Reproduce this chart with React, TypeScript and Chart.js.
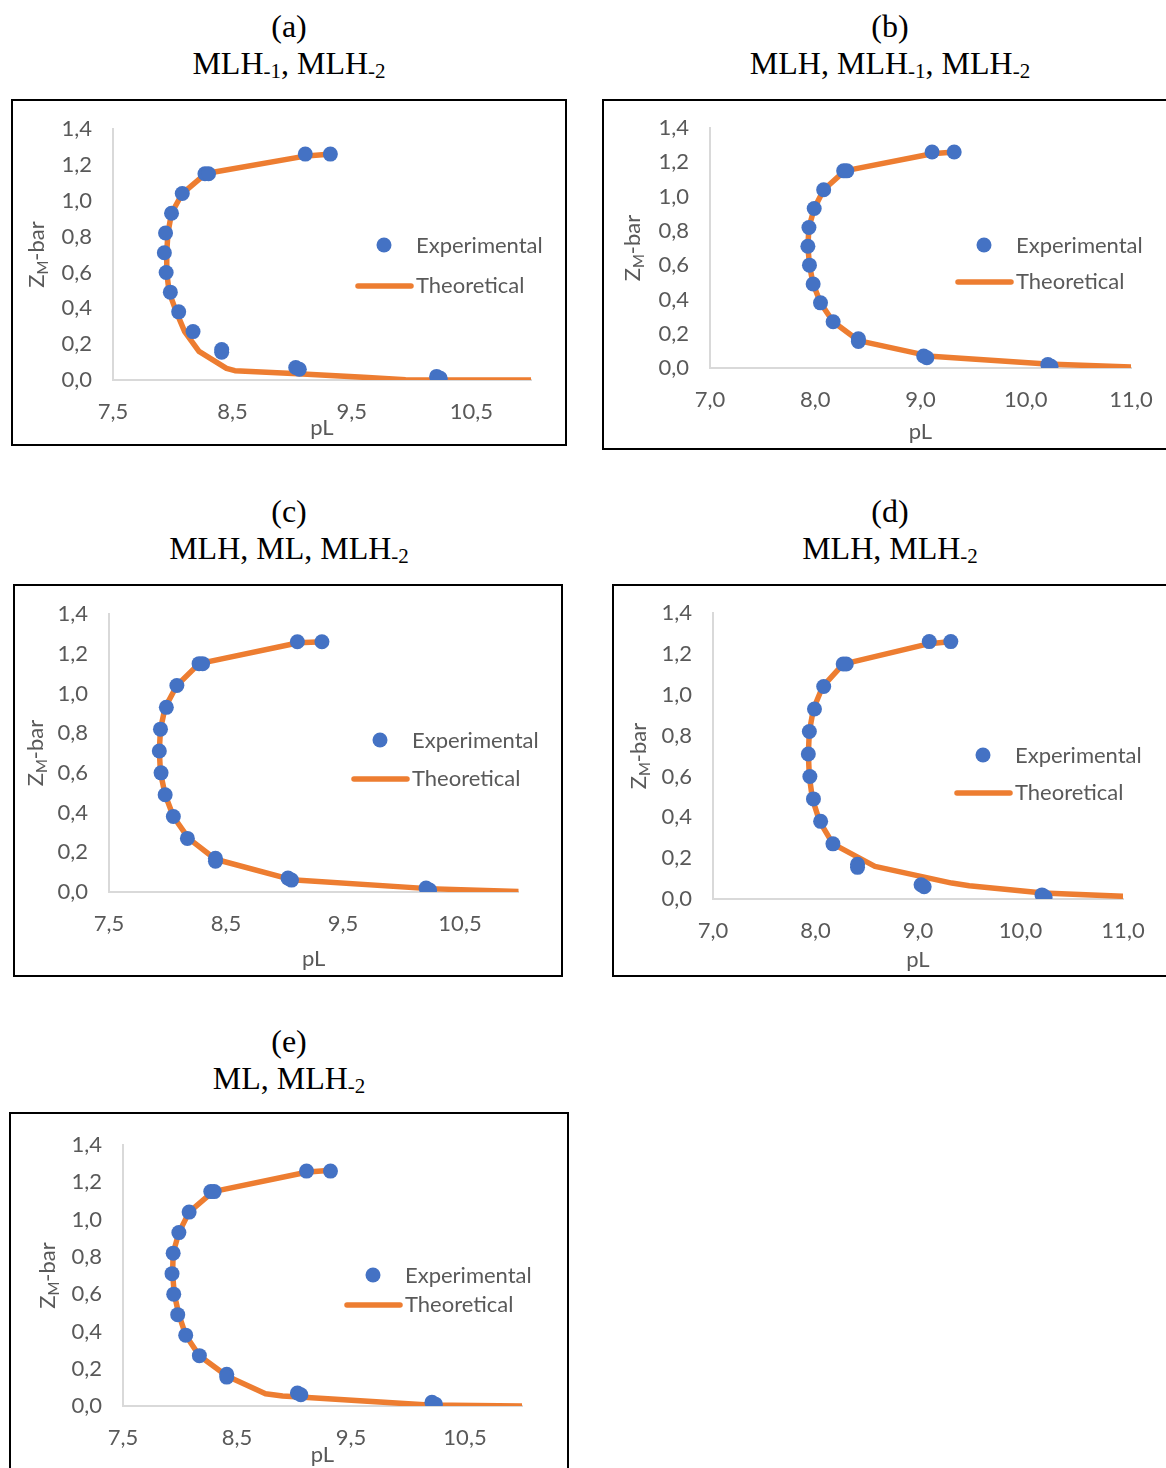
import React, { useEffect, useRef } from "react";
import { Chart, registerables } from "chart.js";

Chart.register(...registerables);

// ---------- data ----------
const yTicks = [0, 0.2, 0.4, 0.6, 0.8, 1.0, 1.2, 1.4];
const xTicksHalf = [7.5, 8.5, 9.5, 10.5];
const xTicksWhole = [7, 8, 9, 10, 11];

const expPL = [9.11, 9.32, 8.27, 8.3, 8.08, 7.99, 7.94, 7.93, 7.945, 7.98, 8.05, 8.17, 8.41, 8.41, 9.03, 9.06, 10.21, 10.24];
const expZ = [1.26, 1.26, 1.15, 1.15, 1.04, 0.93, 0.82, 0.71, 0.6, 0.49, 0.38, 0.27, 0.17, 0.155, 0.07, 0.06, 0.02, 0.01];

const thA_PL = [9.33, 9.12, 8.35, 8.24, 8.08, 7.99, 7.96, 7.95, 7.95, 7.97, 8.03, 8.1, 8.22, 8.45, 8.52, 9.05, 9.6, 9.95, 11.0];
const thA_Z = [1.26, 1.25, 1.16, 1.13, 1.04, 0.93, 0.82, 0.71, 0.6, 0.49, 0.38, 0.27, 0.16, 0.065, 0.052, 0.035, 0.015, 0.002, 0.0];

const thB_PL = [9.32, 9.11, 8.28, 8.08, 7.99, 7.94, 7.93, 7.945, 7.98, 8.05, 8.17, 8.41, 9.1, 10.2, 11.0];
const thB_Z = [1.26, 1.25, 1.15, 1.04, 0.93, 0.82, 0.71, 0.6, 0.49, 0.38, 0.27, 0.16, 0.068, 0.023, 0.006];

const thC_PL = [9.33, 9.12, 8.27, 8.08, 7.98, 7.94, 7.93, 7.94, 7.98, 8.05, 8.18, 8.41, 9.06, 10.23, 11.0];
const thC_Z = [1.26, 1.255, 1.15, 1.04, 0.93, 0.82, 0.71, 0.6, 0.49, 0.38, 0.27, 0.165, 0.062, 0.017, 0.003];

const thD_PL = [9.33, 9.11, 8.27, 8.07, 7.98, 7.94, 7.93, 7.94, 7.97, 8.04, 8.17, 8.58, 9.33, 9.5, 10.22, 11.0];
const thD_Z = [1.26, 1.25, 1.15, 1.04, 0.93, 0.82, 0.71, 0.6, 0.49, 0.38, 0.27, 0.16, 0.078, 0.065, 0.029, 0.013];

const thE_PL = [9.33, 9.12, 8.29, 8.08, 7.99, 7.94, 7.935, 7.95, 7.99, 8.05, 8.17, 8.415, 8.75, 8.9, 9.05, 10.18, 11.0];
const thE_Z = [1.265, 1.255, 1.15, 1.04, 0.93, 0.82, 0.71, 0.6, 0.49, 0.38, 0.27, 0.16, 0.066, 0.054, 0.048, 0.005, 0.0];

const legendLabels = ["Experimental", "Theoretical"];
const xAxisTitle = "pL";

// ---------- styles / layout ----------
const BLUE = "#4472C4";
const ORANGE = "#ED7D31";
const TEXT = "#595959";
const AXIS = "#D9D9D9";
const FONT = "Lato";
const FS = 22;

type Part = [string, boolean];

const panels = [
  {
    letter: "(a)", parts: [["MLH", false], ["-1", true], [", MLH", false], ["-2", true]] as Part[],
    titleCx: 289, titleY: 27,
    box: { left: 11, top: 99, width: 556, height: 347 },
    area: { left: 100, right: 518, top: 28, bottom: 279 },
    xMin: 7.5, xMax: 11, xTicks: xTicksHalf, thPL: thA_PL, thZ: thA_Z,
    legendX: 371, legendY: [144, 185], xTitleOff: 48, yTitleOff: 77,
  },
  {
    letter: "(b)", parts: [["MLH, MLH", false], ["-1", true], [", MLH", false], ["-2", true]] as Part[],
    titleCx: 890, titleY: 27,
    box: { left: 602, top: 99, width: 568, height: 351 },
    area: { left: 106, right: 527, top: 27, bottom: 267 },
    xMin: 7, xMax: 11, xTicks: xTicksWhole, thPL: thB_PL, thZ: thB_Z,
    legendX: 380, legendY: [144, 181], xTitleOff: 64, yTitleOff: 78,
  },
  {
    letter: "(c)", parts: [["MLH, ML, MLH", false], ["-2", true]] as Part[],
    titleCx: 289, titleY: 512,
    box: { left: 13, top: 584, width: 550, height: 393 },
    area: { left: 94, right: 503.5, top: 28, bottom: 306 },
    xMin: 7.5, xMax: 11, xTicks: xTicksHalf, thPL: thC_PL, thZ: thC_Z,
    legendX: 365, legendY: [154, 193], xTitleOff: 67, yTitleOff: 74,
  },
  {
    letter: "(d)", parts: [["MLH, MLH", false], ["-2", true]] as Part[],
    titleCx: 890, titleY: 512,
    box: { left: 612, top: 584, width: 558, height: 393 },
    area: { left: 99, right: 509, top: 27, bottom: 313 },
    xMin: 7, xMax: 11, xTicks: xTicksWhole, thPL: thD_PL, thZ: thD_Z,
    legendX: 369, legendY: [169, 207], xTitleOff: 61, yTitleOff: 75,
  },
  {
    letter: "(e)", parts: [["ML, MLH", false], ["-2", true]] as Part[],
    titleCx: 289, titleY: 1042,
    box: { left: 9, top: 1112, width: 560, height: 380 },
    area: { left: 112, right: 511, top: 31, bottom: 292 },
    xMin: 7.5, xMax: 11, xTicks: xTicksHalf, thPL: thE_PL, thZ: thE_Z,
    legendX: 362, legendY: [161, 191], xTitleOff: 49, yTitleOff: 76,
  },
];

const fmt = (v: any) => Number(v).toFixed(1).replace(".", ",");

const overlayPlugin = {
  id: "overlay",
  afterDraw(chart: any, _args: any, o: any) {
    const { ctx, chartArea } = chart;
    ctx.save();
    // x axis title
    ctx.fillStyle = TEXT;
    ctx.font = `${FS}px ${FONT}`;
    ctx.textAlign = "center";
    ctx.textBaseline = "middle";
    ctx.fillText(xAxisTitle, (chartArea.left + chartArea.right) / 2, chartArea.bottom + o.xTitleOff);

    // y axis title: Z_M-bar (rotated)
    const big = `${FS}px ${FONT}`;
    const small = `15px ${FONT}`;
    ctx.font = big;
    const wZ = ctx.measureText("Z").width;
    const wBar = ctx.measureText("-bar").width;
    ctx.font = small;
    const wM = ctx.measureText("M").width;
    const total = wZ + wM + wBar;
    ctx.translate(chartArea.left - o.yTitleOff, (chartArea.top + chartArea.bottom) / 2);
    ctx.rotate(-Math.PI / 2);
    ctx.textAlign = "left";
    ctx.textBaseline = "alphabetic";
    let x = -total / 2;
    const base = 8;
    ctx.font = big;
    ctx.fillText("Z", x, base);
    x += wZ;
    ctx.font = small;
    ctx.fillText("M", x, base + 4);
    x += wM;
    ctx.font = big;
    ctx.fillText("-bar", x, base);
    ctx.restore();

    // legend
    ctx.save();
    const lx = o.legendX;
    const [y1, y2] = o.legendY;
    ctx.fillStyle = BLUE;
    ctx.beginPath();
    ctx.arc(lx, y1, 7.5, 0, Math.PI * 2);
    ctx.fill();
    ctx.strokeStyle = ORANGE;
    ctx.lineWidth = 5.5;
    ctx.lineCap = "round";
    ctx.beginPath();
    ctx.moveTo(lx - 26, y2);
    ctx.lineTo(lx + 27, y2);
    ctx.stroke();
    ctx.fillStyle = TEXT;
    ctx.font = `${FS}px ${FONT}`;
    ctx.textAlign = "left";
    ctx.textBaseline = "middle";
    ctx.fillText(legendLabels[0], lx + 32, y1 + 1);
    ctx.fillText(legendLabels[1], lx + 32, y2);
    ctx.restore();
  },
};

function Panel({ p }: { p: (typeof panels)[number] }) {
  const ref = useRef<HTMLCanvasElement>(null);
  const W = p.box.width - 4;
  const H = p.box.height - 4;
  useEffect(() => {
    if (!ref.current) return;
    const chart = new Chart(ref.current, {
      type: "scatter",
      data: {
        datasets: [
          {
            label: legendLabels[0],
            data: expPL.map((x, i) => ({ x, y: expZ[i] })),
            showLine: false,
            pointRadius: 7.5,
            pointHoverRadius: 7.5,
            pointBackgroundColor: BLUE,
            pointBorderColor: BLUE,
            pointBorderWidth: 0,
            order: 0,
          },
          {
            label: legendLabels[1],
            data: p.thPL.map((x, i) => ({ x, y: p.thZ[i] })),
            showLine: true,
            borderColor: ORANGE,
            backgroundColor: ORANGE,
            borderWidth: 5.5,
            pointRadius: 0,
            tension: 0,
            borderJoinStyle: "round",
            borderCapStyle: "round",
            order: 1,
          },
        ],
      },
      options: {
        animation: false,
        responsive: false,
        maintainAspectRatio: false,
        events: [],
        layout: { padding: { top: p.area.top, right: W - p.area.right, bottom: 0, left: 0 } },
        plugins: {
          legend: { display: false },
          tooltip: { enabled: false },
          overlay: {
            legendX: p.legendX,
            legendY: p.legendY,
            xTitleOff: p.xTitleOff,
            yTitleOff: p.yTitleOff,
          },
        } as any,
        scales: {
          x: {
            type: "linear",
            min: p.xMin,
            max: p.xMax,
            afterBuildTicks: (s: any) => {
              s.ticks = p.xTicks.map((v) => ({ value: v }));
            },
            afterFit: (s: any) => {
              s.height = H - p.area.bottom;
              s.paddingLeft = 0;
              s.paddingRight = 0;
            },
            grid: { display: false, drawTicks: false },
            border: { display: true, color: AXIS, width: 2 },
            ticks: {
              autoSkip: false,
              maxRotation: 0,
              padding: 19,
              color: TEXT,
              font: { family: FONT, size: FS },
              callback: fmt,
            },
          },
          y: {
            type: "linear",
            min: 0,
            max: 1.4,
            afterBuildTicks: (s: any) => {
              s.ticks = yTicks.map((v) => ({ value: v }));
            },
            afterFit: (s: any) => {
              s.width = p.area.left;
              s.paddingTop = 0;
              s.paddingBottom = 0;
            },
            grid: { display: false, drawTicks: false },
            border: { display: true, color: AXIS, width: 2 },
            ticks: {
              autoSkip: false,
              padding: 21,
              color: TEXT,
              font: { family: FONT, size: FS },
              callback: fmt,
            },
          },
        },
      },
      plugins: [overlayPlugin],
    } as any);
    return () => chart.destroy();
  }, []);

  return (
    <>
      <div
        style={{
          position: "absolute",
          left: p.titleCx - 300,
          top: p.titleY - 19,
          width: 600,
          textAlign: "center",
          fontFamily: '"Liberation Serif", "Times New Roman", serif',
          fontSize: 32,
          lineHeight: "37px",
          color: "#000",
        }}
      >
        <div>{p.letter}</div>
        <div>
          {p.parts.map(([t, sub], i) =>
            sub ? (
              <span key={i} style={{ fontSize: 21, position: "relative", top: 4 }}>
                {t}
              </span>
            ) : (
              <span key={i}>{t}</span>
            )
          )}
        </div>
      </div>
      <div
        style={{
          position: "absolute",
          left: p.box.left,
          top: p.box.top,
          width: W,
          height: H,
          border: "2px solid #000",
          background: "#fff",
        }}
      >
        <canvas ref={ref} width={W} height={H} style={{ display: "block", width: W, height: H }} />
      </div>
    </>
  );
}

export default function App() {
  return (
    <div
      style={{
        position: "absolute",
        left: 0,
        top: 0,
        width: 1166,
        height: 1468,
        overflow: "hidden",
        background: "#fff",
      }}
    >
      {panels.map((p) => (
        <Panel key={p.letter} p={p} />
      ))}
    </div>
  );
}
